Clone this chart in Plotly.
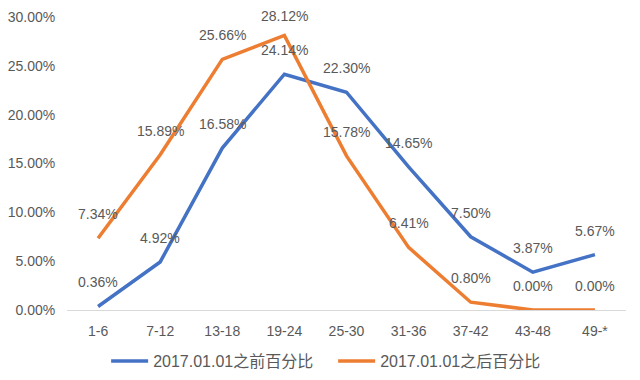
import plotly.graph_objects as go

categories = ["1-6", "7-12", "13-18", "19-24", "25-30", "31-36", "37-42", "43-48", "49-*"]
before_vals = [0.36, 4.92, 16.58, 24.14, 22.30, 14.65, 7.50, 3.87, 5.67]
after_vals = [7.34, 15.89, 25.66, 28.12, 15.78, 6.41, 0.80, 0.00, 0.00]
y_ticks = [0, 5, 10, 15, 20, 25, 30]
y_tick_text = ["0.00%", "5.00%", "10.00%", "15.00%", "20.00%", "25.00%", "30.00%"]
series_names = ["2017.01.01之前百分比", "2017.01.01之后百分比"]

BLUE = "#4472C4"
ORANGE = "#ED7D31"
GREY = "#595959"
FONT = "Liberation Sans, Noto Sans CJK SC, sans-serif"

fig = go.Figure()
fig.add_trace(go.Scatter(x=categories, y=before_vals, mode="lines", name=series_names[0],
                         line=dict(color=BLUE, width=3.5)))
fig.add_trace(go.Scatter(x=categories, y=after_vals, mode="lines", name=series_names[1],
                         line=dict(color=ORANGE, width=3.5)))

annotations = []
for vals in (before_vals, after_vals):
    for c, v in zip(categories, vals):
        # keep the topmost label inside the page
        shift = 24 if v < 27 else 19
        annotations.append(dict(x=c, y=v, text=f"{v:.2f}%", showarrow=False,
                                yshift=shift, font=dict(size=14, color=GREY, family=FONT)))

fig.update_layout(
    width=640, height=380,
    margin=dict(l=59, r=22, t=9, b=78, autoexpand=False),
    paper_bgcolor="white", plot_bgcolor="white",
    font=dict(family=FONT, size=14, color=GREY),
    showlegend=True,
    legend=dict(orientation="h", x=0.07, xanchor="left", y=-0.174, yanchor="middle",
                entrywidth=175, entrywidthmode="pixels", itemwidth=37,
                font=dict(size=16, color=GREY)),
    annotations=annotations,
)
fig.update_xaxes(range=[-0.5, 8.5], showgrid=False, showline=True, linecolor="#D9D9D9", linewidth=1,
                 ticks="outside", ticklen=8, tickcolor="rgba(0,0,0,0)",
                 tickfont=dict(size=14, color=GREY), zeroline=False)
fig.update_yaxes(range=[0, 30], showgrid=False, zeroline=False, showline=False,
                 tickvals=y_ticks, ticktext=y_tick_text, ticks="outside", ticklen=8,
                 tickcolor="rgba(0,0,0,0)", tickfont=dict(size=14, color=GREY))

fig.write_html("out.html")
